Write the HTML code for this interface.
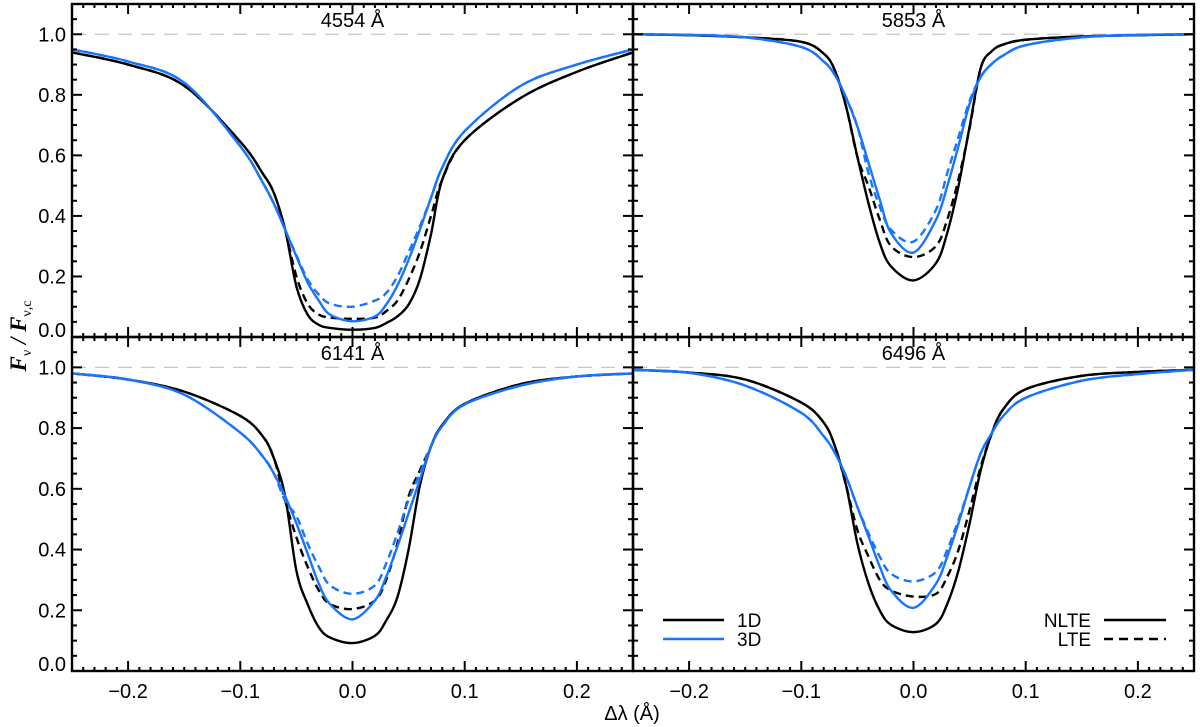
<!DOCTYPE html>
<html><head><meta charset="utf-8"><style>
body{margin:0;background:#fff;}
svg{display:block;font-family:"Liberation Sans",sans-serif;}
</style></head><body>
<svg id="chart" width="1200" height="727" xmlns="http://www.w3.org/2000/svg"></svg>
<script>
const xs = [-0.25,-0.2,-0.15,-0.1,-0.08,-0.07,-0.06,-0.05,-0.04,-0.03,-0.02,0,0.02,0.03,0.04,0.05,0.06,0.07,0.08,0.1,0.15,0.2,0.25];
const panelTitles = ["4554 Å","5853 Å","6141 Å","6496 Å"];
const p1_1dN = [.94,.90,.83,.645,.54,.475,.354,.167,.074,.04,.03,.024,.03,.046,.068,.107,.19,.34,.52,.65,.79,.876,.94];
const p1_1dL = [.94,.90,.83,.645,.54,.475,.354,.20,.11,.074,.064,.06,.064,.085,.12,.19,.28,.40,.52,.65,.79,.876,.94];
const p1_3dN = [.95,.91,.84,.63,.51,.44,.354,.266,.18,.12,.074,.052,.068,.107,.17,.255,.354,.46,.56,.68,.83,.90,.95];
const p1_3dL = [.95,.91,.84,.63,.51,.44,.354,.27,.19,.14,.11,.10,.12,.145,.20,.28,.365,.46,.56,.68,.83,.90,.95];
const p2_1dN = [1,.997,.99,.975,.936,.88,.76,.595,.44,.31,.233,.187,.244,.343,.497,.695,.89,.945,.966,.982,.993,.997,1];
const p2_1dL = [1,.997,.99,.975,.936,.88,.76,.595,.497,.387,.30,.264,.30,.387,.52,.69,.89,.945,.966,.982,.993,.997,1];
const p2_3dN = [1,.998,.99,.958,.91,.865,.79,.695,.574,.453,.343,.279,.387,.497,.63,.77,.86,.903,.93,.964,.99,.998,1];
const p2_3dL = [1,.998,.99,.958,.91,.865,.79,.695,.54,.43,.354,.315,.42,.54,.66,.78,.86,.903,.93,.964,.99,.998,1];
const p3_1dN = [.98,.96,.92,.84,.773,.70,.575,.33,.22,.144,.11,.092,.116,.166,.243,.40,.61,.74,.81,.88,.945,.97,.98];
const p3_1dL = [.98,.96,.92,.84,.773,.70,.56,.44,.343,.265,.22,.204,.232,.30,.42,.575,.66,.74,.81,.88,.945,.97,.98];
const p3_3dN = [.98,.96,.91,.785,.707,.65,.575,.486,.387,.287,.22,.17,.232,.31,.41,.52,.63,.74,.807,.878,.94,.97,.98];
const p3_3dL = [.98,.96,.91,.785,.707,.65,.56,.51,.42,.343,.282,.254,.282,.354,.453,.564,.65,.74,.807,.878,.94,.97,.98];
const p4_1dN = [.992,.983,.96,.884,.818,.74,.61,.42,.287,.199,.152,.128,.155,.22,.33,.486,.663,.785,.862,.928,.972,.985,.992];
const p4_1dL = [.992,.983,.96,.884,.818,.74,.61,.464,.376,.30,.265,.245,.254,.31,.398,.53,.674,.785,.862,.928,.972,.985,.992];
const p4_3dN = [.992,.982,.94,.85,.773,.718,.64,.54,.442,.343,.265,.208,.287,.376,.486,.608,.718,.785,.84,.90,.956,.978,.992];
const p4_3dL = [.992,.982,.94,.85,.773,.718,.64,.54,.453,.376,.32,.295,.326,.398,.497,.608,.718,.785,.84,.90,.956,.978,.992];
const yTicks = ["0.0","0.2","0.4","0.6","0.8","1.0"];
const xTicks = ["−0.2","−0.1","0.0","0.1","0.2"];

const svg = document.getElementById('chart');
const NS = "http://www.w3.org/2000/svg";
function mk(tag, attrs, parent){const e=document.createElementNS(NS,tag);for(const k in attrs)e.setAttribute(k,attrs[k]);(parent||svg).appendChild(e);return e;}
const panels = [
  {x0:72,x1:633,y0:4,y1:337,data:[p1_1dN,p1_1dL,p1_3dN,p1_3dL]},
  {x0:633,x1:1194,y0:4,y1:337,data:[p2_1dN,p2_1dL,p2_3dN,p2_3dL]},
  {x0:72,x1:633,y0:337,y1:671,data:[p3_1dN,p3_1dL,p3_3dN,p3_3dL]},
  {x0:633,x1:1194,y0:337,y1:671,data:[p4_1dN,p4_1dL,p4_3dN,p4_3dL]}
];
const XMIN=-0.25,XMAX=0.25,YMIN=0,YMAX=1.1;
const seriesStyle=[
  {c:"#000",d:"",n:"1d-nlte"},{c:"#000",d:"8,5",n:"1d-lte"},
  {c:"#1874ff",d:"",n:"3d-nlte"},{c:"#1874ff",d:"8,5",n:"3d-lte"}];
function smooth(pts){
  let d=`M${pts[0][0]},${pts[0][1]}`;
  for(let i=0;i<pts.length-1;i++){
    const p0=pts[Math.max(i-1,0)],p1=pts[i],p2=pts[i+1],p3=pts[Math.min(i+2,pts.length-1)];
    const c1=[p1[0]+(p2[0]-p0[0])/6,p1[1]+(p2[1]-p0[1])/6];
    const c2=[p2[0]-(p3[0]-p1[0])/6,p2[1]-(p3[1]-p1[1])/6];
    d+=` C${c1[0]},${c1[1]} ${c2[0]},${c2[1]} ${p2[0]},${p2[1]}`;
  }
  return d;
}
panels.forEach((p,pi)=>{
  const g=mk('g',{});
  
  
  const sx=v=>p.x0+(v-XMIN)/(XMAX-XMIN)*(p.x1-p.x0);
  const sy=v=>p.y1-(v-YMIN)/(YMAX-YMIN)*(p.y1-p.y0);
  const cid='clip'+pi;
  const cp=mk('clipPath',{id:cid},g);mk('rect',{x:p.x0,y:p.y0,width:p.x1-p.x0,height:p.y1-p.y0},cp);
  const ref=mk('line',{x1:p.x0,x2:p.x1,y1:sy(1),y2:sy(1),stroke:"#c8c8c8","stroke-width":1.2,"stroke-dasharray":"14,9"},g);
  
  
  p.data.forEach((arr,si)=>{
    const st=seriesStyle[si];
    const pts=xs.map((x,i)=>[sx(x),sy(arr[i])]);
    const path=mk('path',{d:smooth(pts),fill:"none",stroke:st.c,"stroke-width":2.4,"stroke-dasharray":st.d,"clip-path":`url(#${cid})`},g);
    
    
  });
  for(let k=0;k<=22;k++){const v=k*0.05;const y=sy(v);const L=(k%4===0)?10:5;
    mk('line',{x1:p.x0,x2:p.x0+L,y1:y,y2:y,stroke:"#000","stroke-width":2},g);
    mk('line',{x1:p.x1,x2:p.x1-L,y1:y,y2:y,stroke:"#000","stroke-width":2},g);}
  for(let k=-25;k<=25;k++){const v=k*0.01;const x=sx(v);const L=(k%10===0)?10:4;
    mk('line',{x1:x,x2:x,y1:p.y1,y2:p.y1-L,stroke:"#000","stroke-width":2},g);
    mk('line',{x1:x,x2:x,y1:p.y0,y2:p.y0+L,stroke:"#000","stroke-width":2},g);}
  mk('rect',{x:p.x0,y:p.y0,width:p.x1-p.x0,height:p.y1-p.y0,fill:"none",stroke:"#000","stroke-width":2.4},g);
  const t=mk('text',{x:(p.x0+p.x1)/2,y:p.y0+23,"text-anchor":"middle","font-size":20},g);t.textContent=panelTitles[pi];
  
  
  if(pi%2===0){yTicks.forEach(lbl=>{const v=parseFloat(lbl);const yy=v===0?p.y1-7:sy(v);const tt=mk('text',{x:p.x0-6,y:yy+7,"text-anchor":"end","font-size":20},g);tt.textContent=lbl;
    
    });}
  if(pi>=2){xTicks.forEach(lbl=>{const v=parseFloat(lbl.replace('−','-'));const tt=mk('text',{x:sx(v),y:p.y1+27,"text-anchor":"middle","font-size":20},g);tt.textContent=lbl;
    
    });}
});
svg.insertAdjacentHTML('beforeend',`
<g font-size="19">
 <line x1="663" x2="724" y1="620" y2="620" stroke="#000" stroke-width="2.4"/>
 <text x="737" y="627">1D</text>
 <line x1="663" x2="724" y1="639" y2="639" stroke="#1874ff" stroke-width="2.4"/>
 <text x="737" y="646">3D</text>
 <text x="1091" y="627" text-anchor="end">NLTE</text>
 <line x1="1104" x2="1166" y1="620" y2="620" stroke="#000" stroke-width="2.4"/>
 <text x="1091" y="646" text-anchor="end">LTE</text>
 <line x1="1104" x2="1166" y1="639" y2="639" stroke="#000" stroke-width="2.4" stroke-dasharray="9,6"/>
</g>
<text x="632" y="720" text-anchor="middle" font-size="20">Δλ (Å)</text>
<text transform="translate(26,336) rotate(-90)" text-anchor="middle" font-size="23" font-family="Liberation Serif,serif" font-style="italic" font-weight="bold">F<tspan font-size="14" dy="5" font-style="normal" font-weight="normal">ν</tspan><tspan dy="-5"> / F</tspan><tspan font-size="14" dy="5" font-style="normal" font-weight="normal">ν,c</tspan></text>
`);
</script>
</body></html>
